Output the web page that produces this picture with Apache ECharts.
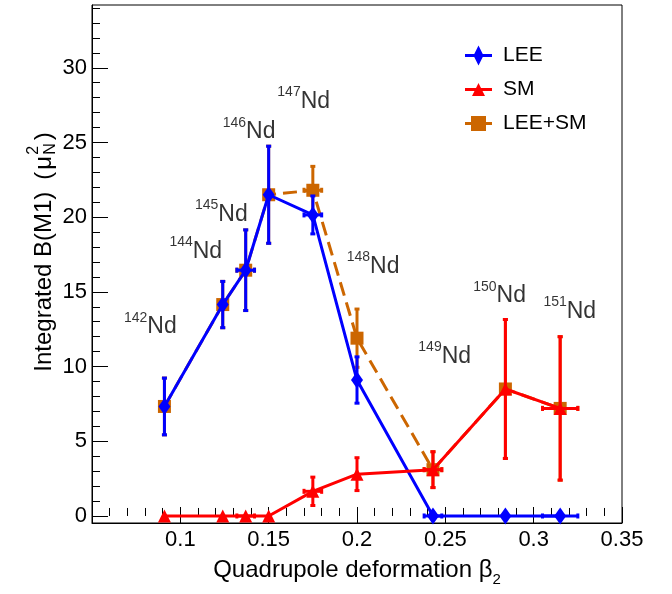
<!DOCTYPE html>
<html>
<head>
<meta charset="utf-8">
<script src="https://cdn.jsdelivr.net/npm/echarts@6/dist/echarts.min.js"></script>
<style>
  html, body { margin: 0; padding: 0; background: #ffffff; }
  #chart { width: 672px; height: 594px; }
</style>
</head>
<body>
<div id="chart"></div>
<script>
// Nd isotopes: quadrupole deformation and integrated B(M1) strength
const isotopes   = ['142', '144', '145', '146', '147', '148', '149', '150', '151'];
const beta2      = [0.091, 0.124, 0.137, 0.150, 0.175, 0.200, 0.243, 0.284, 0.315];
const beta2Err   = [0, 0, 0.005, 0, 0.005, 0, 0.005, 0, 0.010];

const leeValues  = [7.33, 14.15, 16.45, 21.5, 20.15, 9.1, 0, 0, 0];
const leeErr     = [1.9, 1.55, 2.7, 3.25, 1.27, 1.55, 0, 0, 0];
const smValues   = [0, 0, 0, 0, 1.65, 2.8, 3.1, 8.5, 7.2];
const smErr      = [0, 0, 0, 0, 0.95, 1.1, 1.2, 4.65, 4.8];
const sumValues  = [7.33, 14.15, 16.45, 21.5, 21.8, 11.9, 3.1, 8.5, 7.2];
const sumErr     = [1.9, 1.55, 2.7, 3.25, 1.6, 1.95, 1.2, 4.65, 4.8];

// where each isotope name sits (beta2, B(M1)) — left/bottom corner of the text
const labelBeta  = [0.0681, 0.0938, 0.1083, 0.1240, 0.1549, 0.1942, 0.2347, 0.2658, 0.3055];
const labelValue = [11.58, 16.65, 19.10, 24.63, 26.69, 15.64, 9.62, 13.65, 12.63];

// axis ticks
const xMajorTicks = [0.1, 0.15, 0.2, 0.25, 0.3, 0.35];
const xMinorTicks = [0.06, 0.07, 0.08, 0.09, 0.11, 0.12, 0.13, 0.14, 0.16, 0.17, 0.18, 0.19,
                     0.21, 0.22, 0.23, 0.24, 0.26, 0.27, 0.28, 0.29, 0.31, 0.32, 0.33, 0.34];
const yMajorTicks = [0, 5, 10, 15, 20, 25, 30];
const yMinorTicks = [1, 2, 3, 4, 6, 7, 8, 9, 11, 12, 13, 14, 16, 17, 18, 19,
                     21, 22, 23, 24, 26, 27, 28, 29, 31, 32, 33, 34];

const X_MIN = 0.05, X_MAX = 0.35, Y_MIN = -0.47, Y_MAX = 34.2;
const FONT = '"Liberation Sans", Arial, Helvetica, sans-serif';
const BLUE = '#0000ff', RED = '#ff0000', ORANGE = '#cc6600';

function points(values) {
  return beta2.map((b, i) => [b, values[i]]);
}
function errPoints(values, errs) {
  return beta2.map((b, i) => [b, values[i], errs[i], beta2Err[i]]);
}

// error bars with short end caps, drawn through the axis scales
function errorBars(color) {
  return function (params, api) {
    const x = api.value(0), y = api.value(1), ey = api.value(2), ex = api.value(3);
    const c = api.coord([x, y]);
    const st = { stroke: color, lineWidth: 3 };
    const cap = 2.5;
    const kids = [];
    if (ey > 0) {
      const t = api.coord([x, y + ey])[1], b = api.coord([x, y - ey])[1];
      kids.push({ type: 'line', shape: { x1: c[0], y1: t, x2: c[0], y2: b }, style: st });
      kids.push({ type: 'line', shape: { x1: c[0] - cap, y1: t, x2: c[0] + cap, y2: t }, style: st });
      kids.push({ type: 'line', shape: { x1: c[0] - cap, y1: b, x2: c[0] + cap, y2: b }, style: st });
    }
    if (ex > 0) {
      const l = api.coord([x - ex, y])[0], r = api.coord([x + ex, y])[0];
      kids.push({ type: 'line', shape: { x1: l, y1: c[1], x2: r, y2: c[1] }, style: st });
      kids.push({ type: 'line', shape: { x1: l, y1: c[1] - cap, x2: l, y2: c[1] + cap }, style: st });
      kids.push({ type: 'line', shape: { x1: r, y1: c[1] - cap, x2: r, y2: c[1] + cap }, style: st });
    }
    return { type: 'group', children: kids };
  };
}

// y-axis title, reading upwards, with stacked super/subscript on mu
function yTitle() {
  const ctx = document.createElement('canvas').getContext('2d');
  const big = '24px ' + FONT, small = '16px ' + FONT;
  const width = (s, f) => { ctx.font = f; return ctx.measureText(s).width; };
  const parts = [];
  let x = 0;
  const put = (text, font, dy, gapAfter, advance) => {
    parts.push({ text, font, x, dy });
    x += (advance === undefined ? width(text, font) : advance) + gapAfter;
  };
  put('Integrated B(M1)', big, 0, 12);
  put('(', big, 0, 2);
  put('\u03bc', big, 0, 1);
  const wStack = Math.max(width('2', small), width('N', small));
  put('2', small, -10, 0, 0);
  put('N', small, 7, 3, wStack);
  put(')', big, 0, 0);
  const W = x;
  return {
    type: 'group', x: 44, y: 252, rotation: Math.PI / 2,
    children: parts.map(p => ({
      type: 'text', x: p.x - W / 2, y: p.dy,
      style: { text: p.text, font: p.font, fill: '#000', align: 'left', verticalAlign: 'middle' }
    }))
  };
}

const chart = echarts.init(document.getElementById('chart'), null, { renderer: 'canvas' });

const majorTickStyle = { show: true, inside: true, length: 16, lineStyle: { color: '#000', width: 1 } };
const minorTickStyle = { show: true, inside: true, length: 8, lineStyle: { color: '#000', width: 1 } };

chart.setOption({
  animation: false,
  backgroundColor: '#ffffff',
  textStyle: { fontFamily: FONT },
  grid: {
    left: 92, right: 50, top: 5, bottom: 71,
    show: true, borderColor: '#000', borderWidth: 1,
    outerBoundsMode: 'none'
  },
  legend: {
    orient: 'vertical', left: 465, top: 45, padding: 0,
    itemWidth: 27, itemHeight: 20, itemGap: 13,
    textStyle: { fontSize: 21, color: '#000', fontFamily: FONT, lineHeight: 20, padding: [0, 0, 0, 6] },
    data: [
      { name: 'LEE', icon: 'path://M0,8.5H27V11.5H0Z M13.5,0L18.5,10L13.5,20L8.5,10Z' },
      { name: 'SM', icon: 'path://M0,5H27V8H0Z M13.5,0L20,13L7,13Z' },
      { name: 'LEE+SM', icon: 'path://M0,6H27V9H0Z M6,0H21V15H6Z' }
    ]
  },
  xAxis: [
    {
      type: 'value', min: X_MIN, max: X_MAX,
      axisLine: { show: true, onZero: false, lineStyle: { color: '#000', width: 1 } },
      axisTick: Object.assign({ customValues: xMajorTicks }, majorTickStyle),
      axisLabel: { customValues: xMajorTicks, fontSize: 22, color: '#000', margin: 6, fontFamily: FONT },
      splitLine: { show: false },
      name: '{t|Quadrupole deformation \u03b2}{s|2}',
      nameLocation: 'middle', nameGap: 37,
      nameTextStyle: {
        color: '#000',
        rich: {
          t: { fontSize: 24, lineHeight: 27, padding: [0, 0, 6, 0], fontFamily: FONT, color: '#000' },
          s: { fontSize: 15, lineHeight: 15, verticalAlign: 'bottom', fontFamily: FONT, color: '#000' }
        }
      }
    },
    {
      type: 'value', min: X_MIN, max: X_MAX, position: 'bottom',
      axisLine: { show: false },
      axisTick: Object.assign({ customValues: xMinorTicks }, minorTickStyle),
      axisLabel: { show: false },
      splitLine: { show: false }
    }
  ],
  yAxis: [
    {
      type: 'value', min: Y_MIN, max: Y_MAX,
      axisLine: { show: true, onZero: false, lineStyle: { color: '#000', width: 1 } },
      axisTick: Object.assign({ customValues: yMajorTicks }, majorTickStyle),
      axisLabel: { customValues: yMajorTicks, fontSize: 22, color: '#000', margin: 5, fontFamily: FONT },
      splitLine: { show: false }
    },
    {
      type: 'value', min: Y_MIN, max: Y_MAX, position: 'left',
      axisLine: { show: false },
      axisTick: Object.assign({ customValues: yMinorTicks }, minorTickStyle),
      axisLabel: { show: false },
      splitLine: { show: false }
    }
  ],
  graphic: [yTitle()],
  series: [
    {
      type: 'custom', renderItem: errorBars(ORANGE), data: errPoints(sumValues, sumErr),
      encode: { x: 0, y: 1 }, silent: true, z: 2
    },
    {
      name: 'LEE+SM', type: 'line', data: points(sumValues), z: 2,
      symbol: 'rect', symbolSize: 13, showAllSymbol: true,
      itemStyle: { color: ORANGE },
      lineStyle: { color: ORANGE, width: 3, type: [14, 7] }
    },
    {
      type: 'custom', renderItem: errorBars(BLUE), data: errPoints(leeValues, leeErr),
      encode: { x: 0, y: 1 }, silent: true, z: 3
    },
    {
      name: 'LEE', type: 'line', data: points(leeValues), z: 3,
      symbol: 'diamond', symbolSize: [12, 17], showAllSymbol: true,
      itemStyle: { color: BLUE },
      lineStyle: { color: BLUE, width: 3 }
    },
    {
      type: 'custom', renderItem: errorBars(RED), data: errPoints(smValues, smErr),
      encode: { x: 0, y: 1 }, silent: true, z: 4
    },
    {
      name: 'SM', type: 'line', data: points(smValues), z: 4,
      symbol: 'triangle', symbolSize: [13, 13], showAllSymbol: true,
      itemStyle: { color: RED },
      lineStyle: { color: RED, width: 3 }
    },
    {
      type: 'scatter', silent: true, z: 5,
      symbolSize: 0,
      data: labelBeta.map((b, i) => [b, labelValue[i], isotopes[i]]),
      encode: { x: 0, y: 1 },
      label: {
        show: true, position: [0, 0], align: 'left', verticalAlign: 'bottom',
        formatter: p => '{sup|' + p.value[2] + '}{nd|Nd}',
        rich: {
          sup: { fontSize: 14, lineHeight: 14, verticalAlign: 'top', color: '#000', fontFamily: FONT },
          nd: { fontSize: 23, lineHeight: 32, color: '#000', fontFamily: FONT }
        }
      }
    }
  ]
});
</script>
</body>
</html>
